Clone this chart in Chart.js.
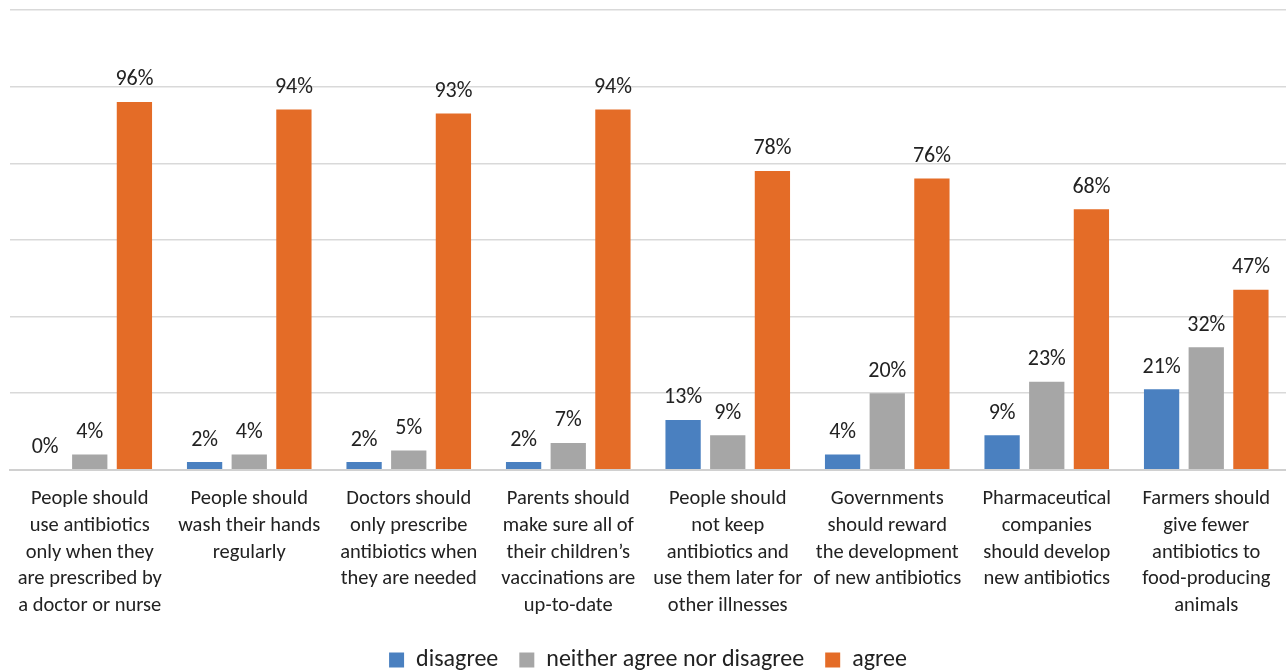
<!DOCTYPE html>
<html>
<head>
<meta charset="utf-8">
<script src="https://cdn.jsdelivr.net/npm/chart.js@4/dist/chart.umd.min.js"></script>
<style>
  html, body { margin: 0; padding: 0; background: #fff; }
  #wrap { width: 1286px; height: 670px; }
</style>
</head>
<body>
<div id="wrap"><canvas id="chart" width="1286" height="670"></canvas></div>
<script>
// Categories (multi-line as in the reference)
const categories = [
  ["People should", "use antibiotics", "only when they", "are prescribed by", "a doctor or nurse"],
  ["People should", "wash their hands", "regularly"],
  ["Doctors should", "only prescribe", "antibiotics when", "they are needed"],
  ["Parents should", "make sure all of", "their children\u2019s", "vaccinations are", "up-to-date"],
  ["People should", "not keep", "antibiotics and", "use them later for", "other illnesses"],
  ["Governments", "should reward", "the development", "of new antibiotics"],
  ["Pharmaceutical", "companies", "should develop", "new antibiotics"],
  ["Farmers should", "give fewer", "antibiotics to", "food-producing", "animals"]
];

const disagree = [0, 2, 2, 2, 13, 4, 9, 21];
const neither = [4, 4, 5, 7, 9, 20, 23, 32];
const agree = [96, 94, 93, 94, 78, 76, 68, 47];

const FONT = "Calibri, Carlito, Lato, 'Open Sans', sans-serif";

// Draw value labels above each bar
const valueLabels = {
  id: 'valueLabels',
  afterDatasetsDraw(chart) {
    const ctx = chart.ctx;
    ctx.save();
    ctx.font = "22px " + FONT;
    ctx.fillStyle = "#222222";
    ctx.textAlign = "center";
    ctx.textBaseline = "bottom";
    chart.data.datasets.forEach((ds, i) => {
      const meta = chart.getDatasetMeta(i);
      meta.data.forEach((bar, j) => {
        ctx.fillText(ds.data[j] + "%", bar.x, bar.y - 11);
      });
    });
    ctx.restore();
  }
};

new Chart(document.getElementById("chart"), {
  type: "bar",
  data: {
    labels: categories,
    datasets: [
      { label: "disagree", data: disagree, backgroundColor: "#4a80c0" },
      { label: "neither agree nor disagree", data: neither, backgroundColor: "#a6a6a6" },
      { label: "agree", data: agree, backgroundColor: "#e46c27" }
    ]
  },
  options: {
    responsive: false,
    animation: false,
    layout: { padding: { left: 10, right: 0, top: 10, bottom: -12 } },
    datasets: {
      bar: { categoryPercentage: 0.84, barPercentage: 0.79 }
    },
    plugins: {
      tooltip: { enabled: false },
      legend: {
        position: "bottom",
        labels: {
          boxWidth: 15,
          boxHeight: 15,
          padding: 21,
          color: "#222222",
          font: { size: 24, family: FONT }
        }
      }
    },
    scales: {
      x: {
        grid: { display: false },
        border: { color: "#d0d0d0", width: 2 },
        ticks: {
          maxRotation: 0,
          autoSkip: false,
          padding: 8,
          color: "#222222",
          font: { size: 20.5, family: FONT, lineHeight: 1.3 }
        }
      },
      y: {
        min: 0,
        max: 120,
        ticks: { display: false, stepSize: 20 },
        border: { display: false },
        grid: { color: "#d9d9d9", lineWidth: 1.5, drawTicks: false }
      }
    }
  },
  plugins: [valueLabels]
});
</script>
</body>
</html>
